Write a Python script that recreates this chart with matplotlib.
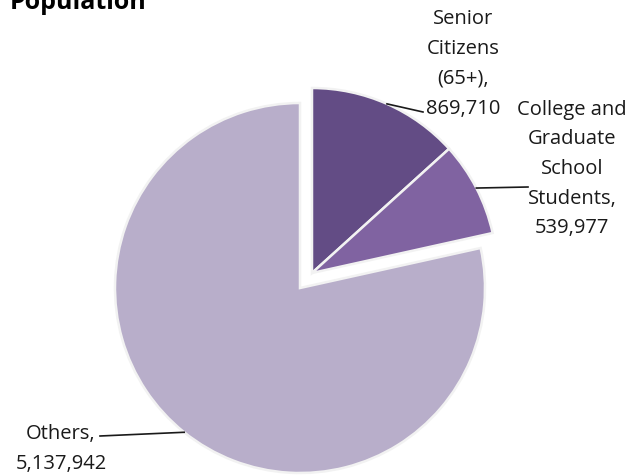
import numpy as np
import matplotlib
matplotlib.use('Agg')
import matplotlib.pyplot as plt

# data
groups = ['Senior\nCitizens\n(65+),', 'College and\nGraduate\nSchool\nStudents,', 'Others,']
people = [869710, 539977, 5137942]
colors = ['#634c85', '#8063a1', '#b8aeca']

plt.rcParams['font.family'] = ['Open Sans', 'DejaVu Sans']

W, H = 628, 476
fig = plt.figure(figsize=(W / 100, H / 100), dpi=100)
ax = fig.add_axes([0, 0, 1, 1])

cx, cy, r = 300, 188, 185
wedges, _ = ax.pie(people, colors=colors, startangle=90, counterclock=False,
                   center=(cx, cy), radius=r,
                   wedgeprops=dict(edgecolor='#f2f2f2', linewidth=1.8))

# pull the two small slices out together
shift = (12, 15)
for w in wedges[:2]:
    w.set_center((cx + shift[0], cy + shift[1]))

ax.set_xlim(0, W)
ax.set_ylim(0, H)
ax.set_aspect('auto')
ax.axis('off')

# label placement (pixel coords, y up)
text_pos = [(463, 412), (572, 307), (61, 27)]
line_end = [(423, 364), (528, 289), (100, 40)]

for w, name, val, tp, le in zip(wedges, groups, people, text_pos, line_end):
    mid = np.deg2rad((w.theta1 + w.theta2) / 2)
    x0, y0 = w.center
    ax_pt = (x0 + w.r * np.cos(mid), y0 + w.r * np.sin(mid))
    ax.plot([ax_pt[0], le[0]], [ax_pt[1], le[1]], color='#1a1a1a', lw=1.2)
    ax.text(tp[0], tp[1], f'{name}\n{val:,}', ha='center', va='center',
            multialignment='center', fontsize=14.5, color='#1a1a1a', linespacing=1.65)

fig.text(10 / W, 1 - 9 / H, 'Population', ha='left', va='baseline',
         fontsize=18, fontweight='bold', color='black')

fig.savefig('out.png', dpi=100)
